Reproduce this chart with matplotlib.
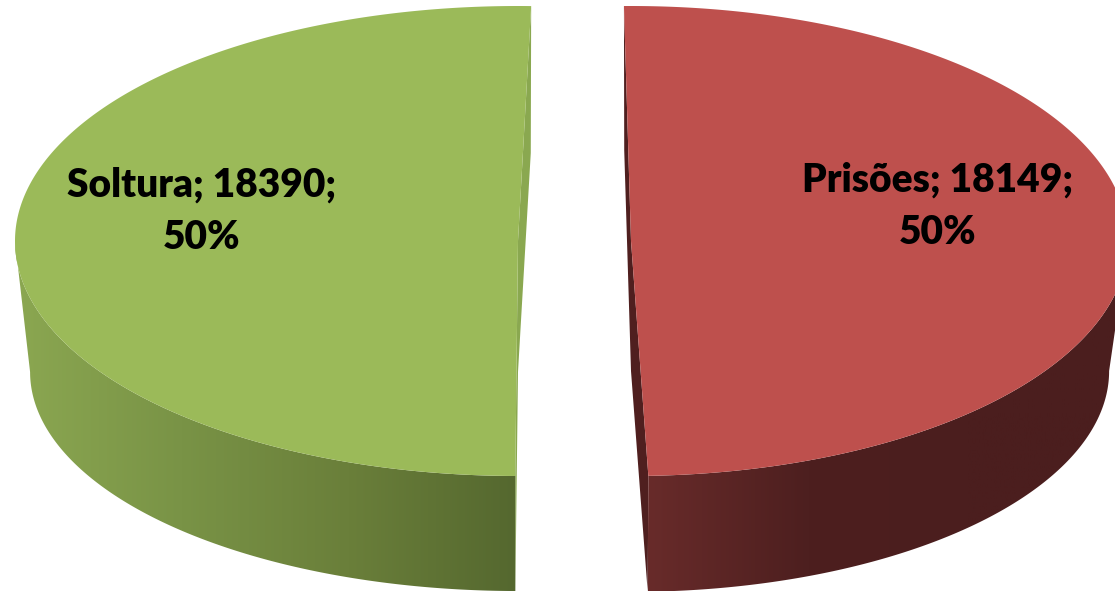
import numpy as np
import matplotlib
matplotlib.use("Agg")
import matplotlib.pyplot as plt
from matplotlib.colors import LinearSegmentedColormap
from matplotlib.patches import Polygon

# ----- Data -----
names  = ["Soltura", "Prisões"]
values = [18390, 18149]

# ----- Look of each slice -----
top_colors  = ["#9bba59", "#be504d"]
wall_colors = ["#8aa850", "#4f1f1f"]
side_stops  = [["#8ba751", "#799346", "#6a7f3a", "#55682f"],
               ["#682b2a", "#4d1f1f", "#4b1e1e", "#4b1e1e"]]
centers     = [(518, 241), (631, 241)]
radii       = [(503, 235), (497, 235)]
start_angle = [88.5, -88.0]
depths      = [131, 130]
bottom_rx   = [0.97, 0.962]
bottom_ry   = [0.932, 0.94]
label_pos   = [(202, 211), (938, 206)]
# ----------------


def arc(cx, cy, rx, ry, a0, a1, n=300):
    t = np.radians(np.linspace(a0, a1, n))
    return np.column_stack([cx + rx * np.cos(t), cy - ry * np.sin(t)])


def draw_slice(ax, i, sweep):
    cx, cy = centers[i]
    rx, ry = radii[i]
    a0 = start_angle[i]
    a1 = a0 + sweep
    bx, by = rx * bottom_rx[i], ry * bottom_ry[i]
    cy2 = cy + depths[i]

    # inner wall seen through the gap
    tip0 = arc(cx, cy, rx, ry, a0, a0, 1)[0]
    tip1 = arc(cx, cy, rx, ry, a1, a1, 1)[0]
    low0 = arc(cx, cy2, bx, by, a0, a0, 1)[0]
    low1 = arc(cx, cy2, bx, by, a1, a1, 1)[0]
    ax.add_patch(Polygon([tip0, low0, (cx, cy2), low1, tip1, (cx, cy)],
                         fc=wall_colors[i], ec="none"))

    # outer side, only the part facing the viewer
    s0, s1 = max(a0, 180), min(a1, 360)
    if i == 1:
        s0, s1 = max(a0, -180), min(a1, 0)
    side = np.vstack([arc(cx, cy, rx, ry, s0, s1),
                      arc(cx, cy2, bx, by, s1, s0)])
    x0, x1 = side[:, 0].min(), side[:, 0].max()
    cmap = LinearSegmentedColormap.from_list("side", side_stops[i])
    im = ax.imshow(np.linspace(0, 1, 256).reshape(1, -1), cmap=cmap, aspect="auto",
                   extent=(x0, x1, side[:, 1].max(), side[:, 1].min()), zorder=1)
    clip = Polygon(side, fc="none", ec="none", transform=ax.transData)
    ax.add_patch(clip)
    im.set_clip_path(clip)

    # top face
    top = np.vstack([[(cx, cy)], arc(cx, cy, rx, ry, a0, a1)])
    ax.add_patch(Polygon(top, fc=top_colors[i], ec="none", zorder=2))


def main():
    plt.rcParams["font.family"] = ["Lato", "DejaVu Sans"]
    fig = plt.figure(figsize=(11.15, 5.91), dpi=100)
    ax = fig.add_axes([0, 0, 1, 1])

    total = sum(values)
    for i, v in enumerate(values):
        draw_slice(ax, i, 360 * v / total)
        label = f"{names[i]}; {v};\n{round(100 * v / total)}%"
        ax.text(label_pos[i][0], label_pos[i][1], label, ha="center", va="center",
                fontsize=28, fontweight="heavy", color="black", linespacing=1.52, zorder=3)

    ax.set_xlim(0, 1115)
    ax.set_ylim(591, 0)
    ax.axis("off")
    fig.savefig("out.png", dpi=100)


if __name__ == "__main__":
    main()
